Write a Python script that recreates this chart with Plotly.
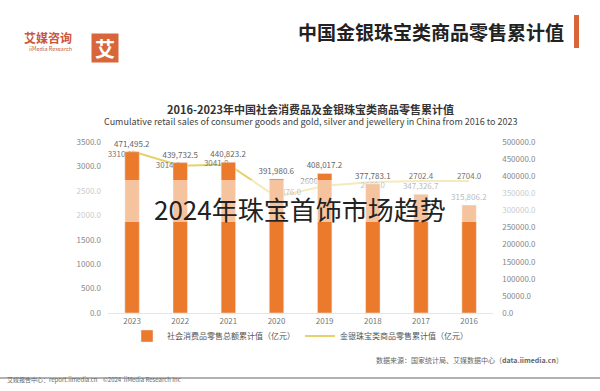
import plotly.graph_objects as go

years = ["2023", "2022", "2021", "2020", "2019", "2018", "2017", "2016"]
retail_total = [471495.2, 439732.5, 440823.2, 391980.6, 408017.2, 377783.1, 347326.7, 315806.2]
jewelry = [3310.0, 3014.0, 3041.0, 2376.0, 2606.0, 2680.0, 2702.4, 2704.0]
left_ticks = [0, 500, 1000, 1500, 2000, 2500, 3000, 3500]
right_ticks = [0, 50000, 100000, 150000, 200000, 250000, 300000, 350000, 400000, 450000, 500000]

FONT = "Noto Sans CJK SC, Noto Sans, sans-serif"
ORANGE = "#EC7A2C"
LINE = "#E5D36A"

fig = go.Figure()
fig.add_trace(go.Bar(
    x=years, y=retail_total, yaxis="y2", name="社会消费品零售总额累计值（亿元）",
    marker=dict(color=ORANGE), width=0.3,
    text=[f"{v:,.1f}" for v in retail_total], textposition="outside", constraintext="none",
    textfont=dict(size=8, color="#666"), cliponaxis=False,
))
fig.add_trace(go.Scatter(
    x=years, y=jewelry, yaxis="y", name="金银珠宝类商品零售累计值（亿元）",
    mode="lines+text", line=dict(color=LINE, width=2),
    text=[f"{v:.1f}" for v in jewelry],
    textposition=["bottom left", "middle left", "middle left", "top right", "top left", "bottom center", "top center", "top center"],
    textfont=dict(size=8, color="#777"), cliponaxis=False,
))

fig.update_layout(
    width=600, height=391, margin=dict(l=0, r=0, t=0, b=0, autoexpand=False),
    paper_bgcolor="white", plot_bgcolor="white",
    font=dict(family=FONT, color="#555"),
    showlegend=True,
    legend=dict(orientation="h", x=0.5, xanchor="center", y=1 - 336 / 391, yanchor="middle",
                font=dict(size=8, color="#555"), traceorder="normal", bgcolor="rgba(0,0,0,0)"),
    bargap=0.7,
    xaxis=dict(domain=[0.18, 0.822], tickfont=dict(size=8, color="#777"),
               showline=True, linecolor="#e6e6e6", ticks="", showgrid=False, automargin=False,
               ticklabelstandoff=0),
    yaxis=dict(domain=[0.1995, 0.6368], range=[0, 3500], tickvals=left_ticks,
               ticktext=[f"{v:.1f}" for v in left_ticks], tickfont=dict(size=8, color="#888"),
               showgrid=False, zeroline=False, side="left", automargin=False, ticklabelstandoff=6),
    yaxis2=dict(domain=[0.1995, 0.6368], range=[0, 500000], tickvals=right_ticks,
                ticktext=[f"{v:.1f}" for v in right_ticks], tickfont=dict(size=8, color="#888"),
                showgrid=False, zeroline=False, overlaying="y", side="right", automargin=False,
                ticklabelstandoff=8),
)

# translucent band over the chart
fig.add_shape(type="rect", xref="paper", yref="paper", x0=0, x1=1,
              y0=1 - 222 / 391, y1=1 - 180 / 391, fillcolor="white",
              opacity=0.55, line=dict(width=0), layer="above")

# header bar + title
fig.add_shape(type="rect", xref="paper", yref="paper", x0=574 / 600, x1=579 / 600,
              y0=1 - 48 / 391, y1=1 - 15 / 391, fillcolor="#D9663A", line=dict(width=0))
fig.add_annotation(text="<b>中国金银珠宝类商品零售累计值</b>", xref="paper", yref="paper",
                   x=566 / 600, y=1 - 32 / 391, xanchor="right", yanchor="middle",
                   showarrow=False, font=dict(size=19, color="#222", family=FONT))
# logo
fig.add_annotation(text="<b>艾</b>", xref="paper", yref="paper", x=91 / 600, y=1 - 33 / 391,
                   showarrow=False, bgcolor="#D9663A", width=26, height=28, borderpad=0,
                   font=dict(size=20, color="white", family=FONT))
fig.add_annotation(text="<b>艾媒咨询</b>", xref="paper", yref="paper", x=74 / 600, y=1 - 27 / 391,
                   xanchor="right", showarrow=False, font=dict(size=12, color="#C9573A", family=FONT))
fig.add_annotation(text="iiMedia Research", xref="paper", yref="paper", x=74 / 600, y=1 - 43 / 391,
                   xanchor="right", showarrow=False, font=dict(size=5.5, color="#C9573A", family=FONT))

# subtitles
fig.add_annotation(text="<b>2016-2023年中国社会消费品及金银珠宝类商品零售累计值</b>", xref="paper", yref="paper",
                   x=310 / 600, y=1 - 99 / 391, showarrow=False,
                   font=dict(size=11, color="#333", family=FONT))
fig.add_annotation(text="Cumulative retail sales of consumer goods and gold, silver and jewellery in China from 2016 to 2023",
                   xref="paper", yref="paper", x=310 / 600, y=1 - 113 / 391, showarrow=False,
                   font=dict(size=9, color="#444", family=FONT))

# overlay title
fig.add_annotation(text="2024年珠宝首饰市场趋势", xref="paper", yref="paper",
                   x=300 / 600, y=1 - 208 / 391, showarrow=False,
                   font=dict(size=26, color="#222", family="Noto Sans CJK SC"))

# source + footer
fig.add_annotation(text="数据来源：国家统计局、艾媒数据中心（<b>data.iimedia.cn</b>）", xref="paper", yref="paper",
                   x=565 / 600, y=1 - 367 / 391, xanchor="right", showarrow=False,
                   font=dict(size=7, color="#666", family=FONT))
fig.add_shape(type="line", xref="paper", yref="paper", x0=0, x1=1,
              y0=1 - 378 / 391, y1=1 - 378 / 391, line=dict(color="#999", width=1.5))
fig.add_annotation(text="艾媒报告中心：report.iimedia.cn    ©2024  iiMedia Research Inc", xref="paper", yref="paper",
                   x=5 / 600, y=1 - 386 / 391, xanchor="left", showarrow=False,
                   font=dict(size=6, color="#666", family=FONT))

fig.write_html("out.html", config={"displayModeBar": False},
               post_script="document.body.style.margin='0px';document.body.style.overflow='hidden';")
